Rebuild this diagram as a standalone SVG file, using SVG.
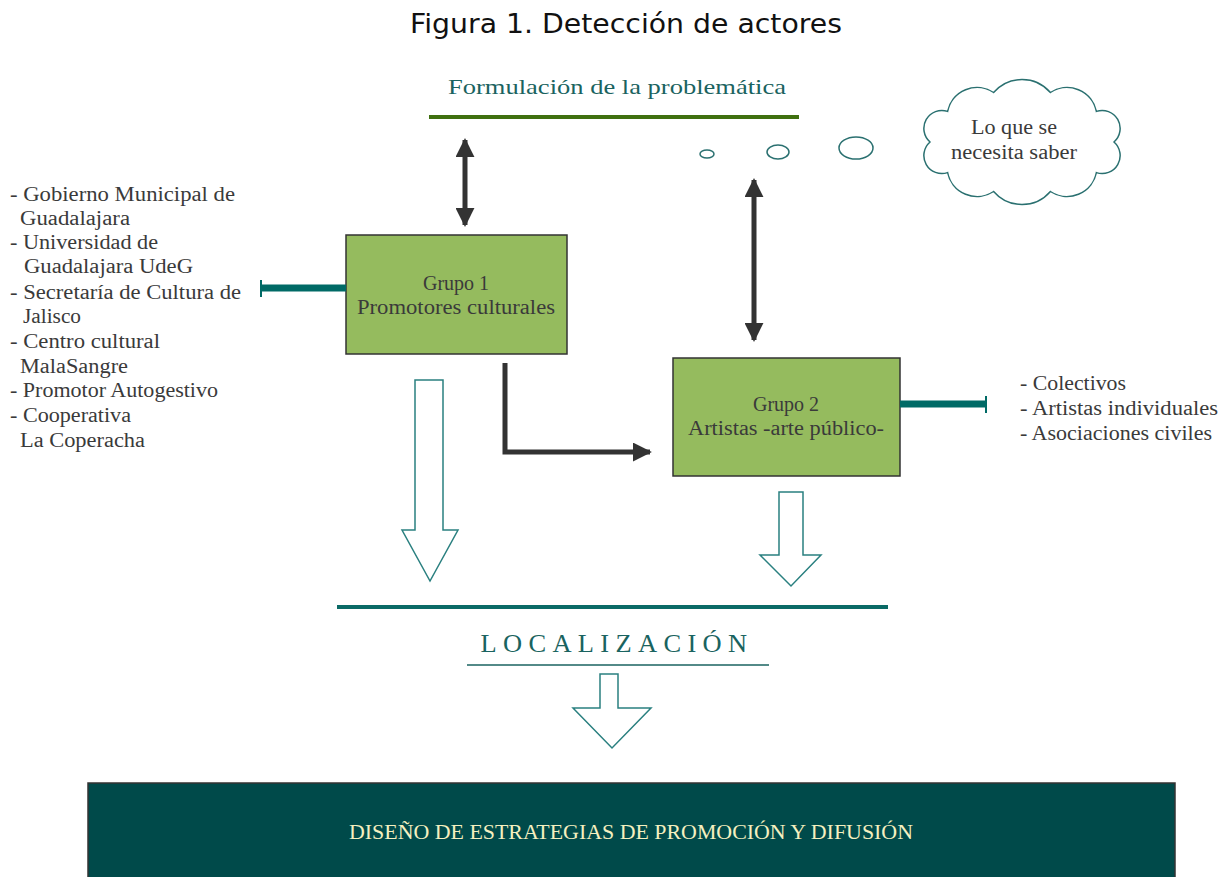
<svg xmlns="http://www.w3.org/2000/svg" width="1228" height="877" viewBox="0 0 1228 877">
<style>
.serif{font-family:"Liberation Serif","DejaVu Serif",serif;}
.gray{fill:#3a3a3a;font-size:20px;}
.teal{fill:#1a6360;}
.box{fill:#95bb5e;stroke:#333;stroke-width:1.5;}
.hollow{fill:#fff;stroke:#2a8080;stroke-width:1.5;}
.dark{stroke:#333;stroke-width:5;fill:none;}
.bar{stroke:#006a66;stroke-width:7;fill:none;}
.tick{stroke:#006a66;stroke-width:2;}
</style>
<defs>
<marker id="ah" viewBox="0 0 10 10" refX="9" refY="5" markerWidth="3.8" markerHeight="3.8" orient="auto-start-reverse" markerUnits="strokeWidth">
<path d="M0,0 L10,5 L0,10 Z" fill="#333"/>
</marker>
</defs>
<rect width="1228" height="877" fill="#fff"/>
<text x="626" y="33" text-anchor="middle" font-family="'DejaVu Sans','Noto Sans',sans-serif" font-size="26" fill="#111" textLength="432" lengthAdjust="spacingAndGlyphs">Figura 1. Detección de actores</text>

<g id="formulacion">
<text class="serif teal" x="617" y="94" text-anchor="middle" font-size="22" textLength="338" lengthAdjust="spacingAndGlyphs">Formulación de la problemática</text>
<line x1="429" y1="117" x2="799" y2="117" stroke="#3f7010" stroke-width="4"/>
</g>

<g id="pensamiento">
<ellipse cx="707" cy="154" rx="7" ry="4" fill="none" stroke="#2a7070" stroke-width="1.5"/>
<ellipse cx="778" cy="152" rx="11" ry="7" fill="none" stroke="#2a7070" stroke-width="1.5"/>
<ellipse cx="856" cy="148" rx="17" ry="11" fill="none" stroke="#2a7070" stroke-width="1.5"/>
<path d="M930,142 A18,18 0 0 1 947.6,111.4 A30,30 0 0 1 993.6,92.5 A37.5,37.5 0 0 1 1050.4,92.5 A30,30 0 0 1 1096.4,111.4 A18,18 0 0 1 1114,142 A18,18 0 0 1 1096.4,172.6 A30,30 0 0 1 1050.4,191.5 A37.5,37.5 0 0 1 993.6,191.5 A30,30 0 0 1 947.6,172.6 A18,18 0 0 1 930,142 Z" fill="#fff" stroke="#2a7070" stroke-width="1.5"/>
<text class="serif gray" x="1014" y="134" text-anchor="middle" font-size="19" textLength="86" lengthAdjust="spacingAndGlyphs">Lo que se</text>
<text class="serif gray" x="1014" y="159" text-anchor="middle" font-size="19" textLength="126" lengthAdjust="spacingAndGlyphs">necesita saber</text>
</g>

<g id="grupo1">
<rect class="box" x="346" y="235" width="221" height="119"/>
<text class="serif gray" x="456" y="290" text-anchor="middle" font-size="18">Grupo 1</text>
<text class="serif gray" x="456" y="314" text-anchor="middle" font-size="19" textLength="198" lengthAdjust="spacingAndGlyphs">Promotores culturales</text>
</g>

<g id="grupo2">
<rect class="box" x="673" y="358" width="227" height="118"/>
<text class="serif gray" x="786" y="411" text-anchor="middle" font-size="18">Grupo 2</text>
<text class="serif gray" x="786" y="435" text-anchor="middle" font-size="19" textLength="196" lengthAdjust="spacingAndGlyphs">Artistas -arte público-</text>
</g>

<g id="lista-izquierda" class="serif gray">
<text x="10" y="201" textLength="225" lengthAdjust="spacingAndGlyphs">- Gobierno Municipal de</text>
<text x="20" y="225" textLength="110" lengthAdjust="spacingAndGlyphs">Guadalajara</text>
<text x="10" y="249" textLength="148" lengthAdjust="spacingAndGlyphs">- Universidad de</text>
<text x="24" y="273" textLength="169" lengthAdjust="spacingAndGlyphs">Guadalajara UdeG</text>
<text x="10" y="299" textLength="231" lengthAdjust="spacingAndGlyphs">- Secretaría de Cultura de</text>
<text x="23" y="323" textLength="58" lengthAdjust="spacingAndGlyphs">Jalisco</text>
<text x="10" y="348" textLength="150" lengthAdjust="spacingAndGlyphs">- Centro cultural</text>
<text x="20" y="373" textLength="108" lengthAdjust="spacingAndGlyphs">MalaSangre</text>
<text x="10" y="397" textLength="208" lengthAdjust="spacingAndGlyphs">- Promotor Autogestivo</text>
<text x="10" y="422" textLength="121" lengthAdjust="spacingAndGlyphs">- Cooperativa</text>
<text x="20" y="447" textLength="125" lengthAdjust="spacingAndGlyphs">La Coperacha</text>
</g>

<g id="lista-derecha" class="serif gray">
<text x="1020" y="390" textLength="106" lengthAdjust="spacingAndGlyphs">- Colectivos</text>
<text x="1020" y="415" textLength="198" lengthAdjust="spacingAndGlyphs">- Artistas individuales</text>
<text x="1020" y="440" textLength="192" lengthAdjust="spacingAndGlyphs">- Asociaciones civiles</text>
</g>

<g id="localizacion">
<line x1="337" y1="607" x2="888" y2="607" stroke="#0a6a66" stroke-width="4"/>
<text class="serif teal" x="617" y="652" text-anchor="middle" font-size="25" letter-spacing="6" textLength="273" lengthAdjust="spacingAndGlyphs">LOCALIZACIÓN</text>
<line x1="467" y1="665" x2="769" y2="665" stroke="#1a6360" stroke-width="1.5"/>
</g>

<g id="diseno">
<rect x="88" y="783" width="1087" height="100" fill="#004a4a" stroke="#333" stroke-width="1.5"/>
<text class="serif" x="631" y="839" text-anchor="middle" font-size="20" fill="#f5f0c0" textLength="564" lengthAdjust="spacingAndGlyphs">DISEÑO DE ESTRATEGIAS DE PROMOCIÓN Y DIFUSIÓN</text>
</g>

<g id="conectores">
<line class="dark" x1="465" y1="140" x2="465" y2="225" marker-start="url(#ah)" marker-end="url(#ah)"/>
<line class="dark" x1="754" y1="180" x2="754" y2="340" marker-start="url(#ah)" marker-end="url(#ah)"/>
<polyline class="dark" points="505,363 505,452 650,452" marker-end="url(#ah)"/>
<line class="bar" x1="261" y1="288" x2="346" y2="288"/>
<line class="tick" x1="261" y1="280" x2="261" y2="297"/>
<line class="bar" x1="900" y1="404" x2="986" y2="404"/>
<line class="tick" x1="986" y1="396" x2="986" y2="413"/>
<path class="hollow" d="M415,380 L443,380 L443,530 L458,530 L430,581 L402,530 L415,530 Z"/>
<path class="hollow" d="M779,492 L803,492 L803,555 L821,555 L791,586 L760,555 L779,555 Z"/>
<path class="hollow" d="M600,674 L618,674 L618,708 L651,708 L612,748 L573,708 L600,708 Z"/>
</g>
</svg>
